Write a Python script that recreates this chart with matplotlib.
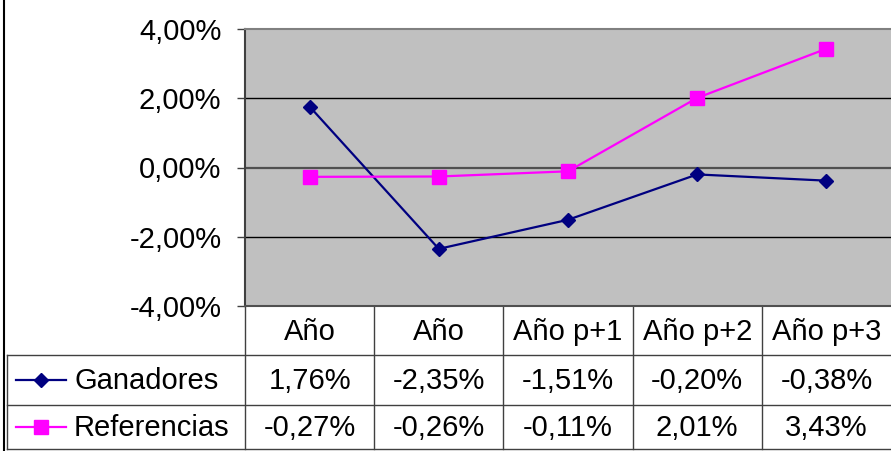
import numpy as np
import matplotlib.pyplot as plt
from matplotlib.ticker import FuncFormatter

plt.rcParams['font.family'] = ['Liberation Sans', 'DejaVu Sans']

categories = ['Año', 'Año', 'Año p+1', 'Año p+2', 'Año p+3']
ganadores = [1.76, -2.35, -1.51, -0.20, -0.38]
referencias = [-0.27, -0.26, -0.11, 2.01, 3.43]
series_names = ['Ganadores', 'Referencias']
yticks = [-4, -2, 0, 2, 4]

W, H = 891, 451
fs = 21

def pct(v):
    return ('%.2f%%' % v).replace('.', ',')

fig = plt.figure(figsize=(W / 100, H / 100), dpi=100)

# background axes in pixel units for the data table and frame
bg = fig.add_axes([0, 0, 1, 1])
bg.set_xlim(0, W)
bg.set_ylim(H, 0)
bg.axis('off')

# plot area
left, top, bottom = 245, 29, 306
ax = fig.add_axes([left / W, (H - bottom) / H, (W - left) / W, (bottom - top) / H])
ax.set_facecolor('#c0c0c0')
x = np.arange(len(categories)) + 0.5
ax.set_xlim(0, len(categories))
ax.set_ylim(-4, 4)
for g in [-2, 2]:
    ax.axhline(g, color='black', lw=1)
ax.axhline(0, color='#505050', lw=1.6)
ax.plot(x, ganadores, color='#000080', lw=1.6, marker='D', markersize=7.5)
ax.plot(x, referencias, color='#ff00ff', lw=1.6, marker='s', markersize=10)
ax.set_xticks([])
ax.set_yticks(yticks)
ax.yaxis.set_major_formatter(FuncFormatter(lambda v, p: pct(v)))
ax.tick_params(axis='y', length=6, width=1, pad=11, labelsize=fs, color='#404040')
ax.spines['left'].set_color('#404040')
ax.spines['left'].set_linewidth(1.5)
ax.spines['bottom'].set_color('#505050')
ax.spines['bottom'].set_linewidth(1.5)
ax.spines['top'].set_color('#808080')
ax.spines['top'].set_linewidth(1.5)
ax.spines['right'].set_visible(False)

# data table
col_w = (W - left) / len(categories)
row_y = [306, 355, 405, 449]
lc = '#404040'
bg.plot([4, 4], [0, H], color='black', lw=1.5)
for i in range(len(categories)):
    xl = left + i * col_w
    bg.plot([xl, xl], [row_y[0], row_y[3]], color=lc, lw=1)
    bg.text(xl + col_w / 2, (row_y[0] + row_y[1]) / 2 + 1, categories[i],
            ha='center', va='center', fontsize=fs)
    bg.text(xl + col_w / 2, (row_y[1] + row_y[2]) / 2 + 1, pct(ganadores[i]),
            ha='center', va='center', fontsize=fs)
    bg.text(xl + col_w / 2, (row_y[2] + row_y[3]) / 2 + 1, pct(referencias[i]),
            ha='center', va='center', fontsize=fs)
for yy in row_y[1:]:
    bg.plot([7, W], [yy, yy], color=lc, lw=1)
bg.plot([7, 7], [row_y[1], row_y[3]], color=lc, lw=1)

styles = [('#000080', 'D', 7.5), ('#ff00ff', 's', 10)]
for r, (name, (c, m, ms)) in enumerate(zip(series_names, styles)):
    yc = (row_y[r + 1] + row_y[r + 2]) / 2
    bg.plot([16, 66], [yc, yc], color=c, lw=1.6)
    bg.plot([41], [yc], color=c, marker=m, markersize=ms)
    bg.text(74, yc + 1, name, ha='left', va='center', fontsize=fs)

fig.savefig('out.png', dpi=100)
